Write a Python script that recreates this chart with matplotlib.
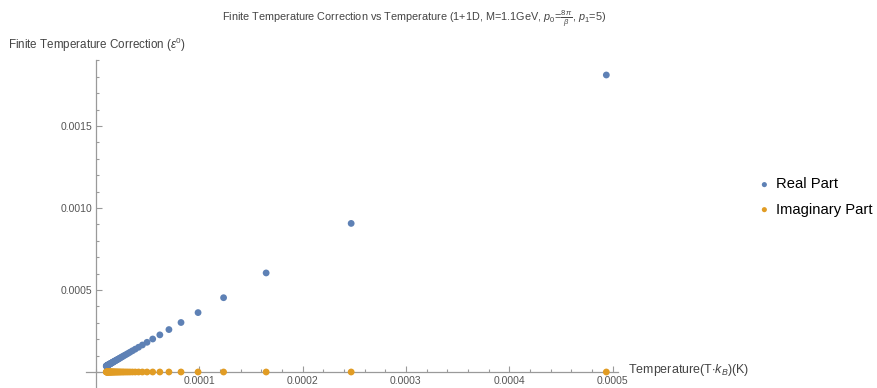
import matplotlib
matplotlib.use("Agg")
import matplotlib.pyplot as plt
import numpy as np
from matplotlib.ticker import MultipleLocator, FuncFormatter

# ---------- Data ----------
# temperature in units of 1e-6
temperature = [
    494.0, 247.0, 164.7, 123.5, 98.8, 82.3, 70.6, 61.8, 54.9, 49.4,
    44.9, 41.2, 38.0, 35.3, 32.9, 30.9, 29.1, 27.4, 26.0, 24.7,
    23.5, 22.5, 21.5, 20.6, 19.8, 19.0, 18.3, 17.6, 17.0, 16.5,
    15.9, 15.4, 15.0, 14.5, 14.1, 13.7, 13.4, 13.0, 12.7, 12.4,
    12.0, 11.8, 11.5, 11.2, 11.0, 10.7, 10.5, 10.3, 10.1, 9.9,
]
# real part in units of 1e-6
real_part = [
    1811, 906, 604, 453, 362.2, 301.8, 258.7, 226.4, 201.2, 181.1,
    164.6, 150.9, 139.3, 129.4, 120.7, 113.2, 106.5, 100.6, 95.3, 90.6,
    86.2, 82.3, 78.7, 75.5, 72.4, 69.7, 67.1, 64.7, 62.4, 60.4,
    58.4, 56.6, 54.9, 53.3, 51.7, 50.3, 48.9, 47.7, 46.4, 45.3,
    44.2, 43.1, 42.1, 41.2, 40.2, 39.4, 38.5, 37.7, 37.0, 36.2,
]
imag_part = [0.0] * len(temperature)

series = ["Real Part", "Imaginary Part"]
colors = ["#5E81B5", "#E19C24"]

x_ticks = [0.0001, 0.0002, 0.0003, 0.0004, 0.0005]
y_ticks = [0.0005, 0.0010, 0.0015]

x = np.array(temperature) * 1e-6
ys = [np.array(real_part) * 1e-6, np.array(imag_part) * 1e-6]

# ---------- Fonts ----------
plt.rcParams["font.family"] = ["Liberation Sans", "DejaVu Sans"]
plt.rcParams["mathtext.fontset"] = "custom"
plt.rcParams["mathtext.rm"] = "Liberation Sans"
plt.rcParams["mathtext.it"] = "Liberation Sans:italic"

W, H = 877, 388
fig = plt.figure(figsize=(W / 100, H / 100), dpi=100)

# axes box in pixels: left 86, right 618, top 60, bottom 388
ax = fig.add_axes([86 / W, 0.0, (618 - 86) / W, (388 - 60) / H])
ax.set_xlim(-9.68e-6, 0.0005053)
ax.set_ylim(-0.0000976, 0.0019024)

for name, y, c in zip(series, ys, colors):
    ax.scatter(x, y, s=24, color=c, edgecolors="none", label=name,
               zorder=3, clip_on=False)

# ---------- Style ----------
axis_gray = "#9a9a9a"
for side in ["top", "right"]:
    ax.spines[side].set_visible(False)
for side in ["left", "bottom"]:
    ax.spines[side].set_position(("data", 0))
    ax.spines[side].set_color(axis_gray)
    ax.spines[side].set_linewidth(0.9)

ax.set_xticks(x_ticks)
ax.set_yticks(y_ticks)
ax.xaxis.set_minor_locator(MultipleLocator(0.00002))
ax.yaxis.set_minor_locator(MultipleLocator(0.0001))
fmt = FuncFormatter(lambda v, p: f"{v:.4f}")
ax.xaxis.set_major_formatter(fmt)
ax.yaxis.set_major_formatter(fmt)
ax.tick_params(which="both", direction="in", color=axis_gray,
               labelcolor="#555555", labelsize=7.5, width=0.8)
ax.tick_params(which="major", length=4.5, pad=2.5)
ax.tick_params(which="minor", length=2.5)
ax.tick_params(axis="x", which="major", pad=3)
ax.patch.set_visible(False)

# ---------- Texts ----------
fig.text(414 / W, 1 - 19 / H,
         r"Finite Temperature Correction vs Temperature (1+1D, M=1.1GeV, "
         r"$p_0$=$\frac{8\,\pi}{\beta}$, $p_1$=5)",
         ha="center", va="center", fontsize=7.8, color="#444444")
fig.text(8 / W, 1 - 45 / H, r"Finite Temperature Correction ($\varepsilon^0$)",
         ha="left", va="center", fontsize=8.4, color="#444444")
fig.text(628 / W, 1 - 370 / H, r"Temperature(T$\cdot k_B$)(K)",
         ha="left", va="center", fontsize=9, color="#444444")

fig.legend(loc="center left", bbox_to_anchor=(757 / W, 1 - 197 / H),
           frameon=False, fontsize=10.6, handletextpad=0.3, handlelength=1.0,
           markerscale=0.75, labelspacing=0.75, borderaxespad=0,
           borderpad=0)

fig.savefig("out.png", dpi=100)
